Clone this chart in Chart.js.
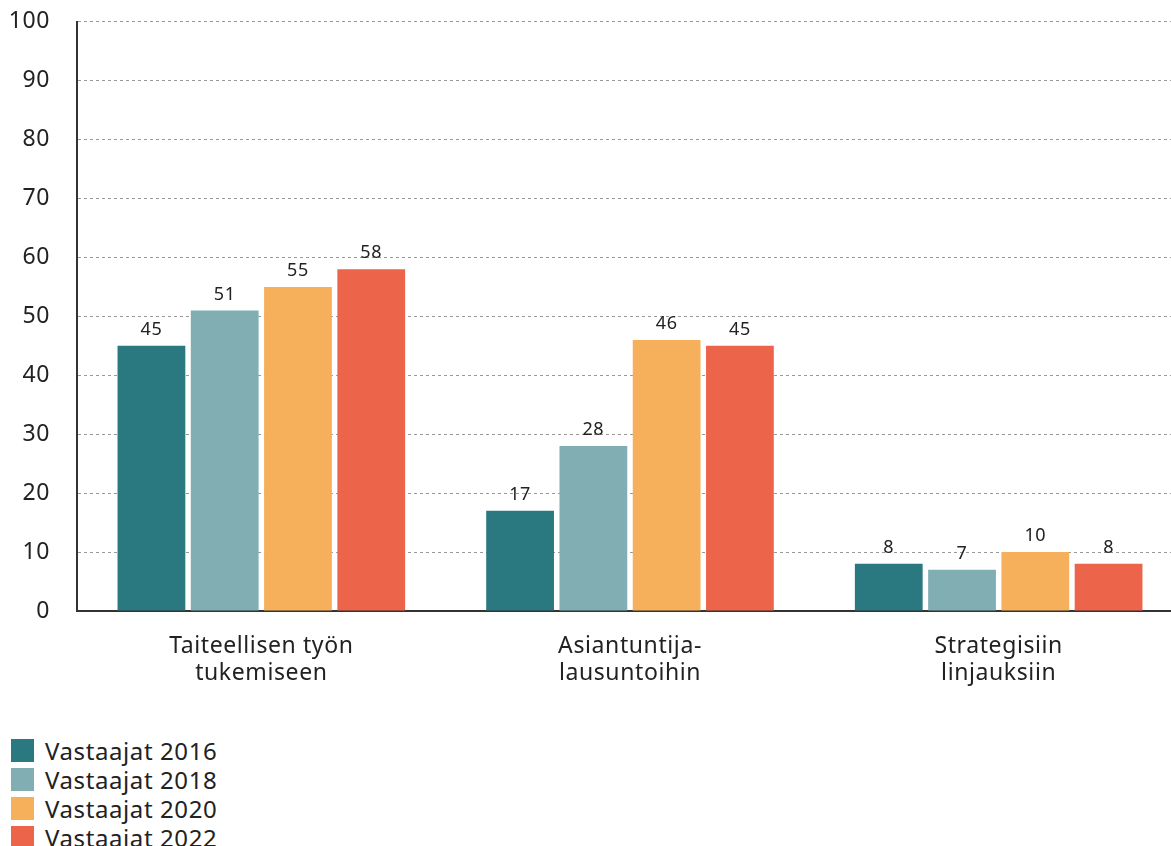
<!DOCTYPE html>
<html>
<head>
<meta charset="utf-8">
<script src="https://cdn.jsdelivr.net/npm/chart.js@4"></script>
<style>
  body { margin: 0; overflow: hidden; background: #fff; font-family: "Noto Sans", sans-serif; }
  #wrap { position: relative; width: 1183px; height: 739px; margin-top: -19px; }
  #legend { margin: 16px 0 0 11px; }
  .item { display: flex; align-items: center; height: 29px; font-size: 24px; letter-spacing: 0.6px; color: #222; }
  .box { width: 23px; height: 23px; margin-right: 11px; }
</style>
</head>
<body>
<div id="wrap"><canvas id="myChart"></canvas></div>
<div id="legend"></div>
<script>
const categories = [["Taiteellisen työn", "tukemiseen"], ["Asiantuntija-", "lausuntoihin"], ["Strategisiin", "linjauksiin"]]
const seriesNames = ["Vastaajat 2016", "Vastaajat 2018", "Vastaajat 2020", "Vastaajat 2022"]
const v2016 = [45, 17, 8]
const v2018 = [51, 28, 7]
const v2020 = [55, 46, 10]
const v2022 = [58, 45, 8]
const colors = ["#2a7880", "#80aeb3", "#f6b05c", "#ec654b"]
const yTicks = [0, 10, 20, 30, 40, 50, 60, 70, 80, 90, 100]

Chart.defaults.font.family = 'Noto Sans'

// a bit of tracking, the original text is set a little loose
const spacing = {
  id: 'spacing',
  beforeDraw(chart) { chart.ctx.letterSpacing = '0.6px' }
}

// value labels above the bars
const barLabels = {
  id: 'barLabels',
  afterDatasetsDraw(chart) {
    const ctx = chart.ctx
    ctx.save()
    ctx.font = '18px "Noto Sans"'
    ctx.fillStyle = '#222'
    ctx.textAlign = 'center'
    ctx.textBaseline = 'alphabetic'
    chart.data.datasets.forEach((ds, i) => {
      chart.getDatasetMeta(i).data.forEach((bar, j) => {
        ctx.fillText(ds.data[j], bar.x, bar.y - 11)
      })
    })
    ctx.restore()
  }
}

const allSeries = [v2016, v2018, v2020, v2022]
const ctx = document.getElementById('myChart')
new Chart(ctx, {
  type: 'bar',
  data: {
    labels: categories,
    datasets: allSeries.map((d, i) => ({
      label: seriesNames[i],
      data: d,
      backgroundColor: colors[i],
      categoryPercentage: 0.795,
      barPercentage: 0.925
    }))
  },
  options: {
    responsive: true,
    maintainAspectRatio: false,
    animation: false,
    layout: { padding: { top: 12, left: 0, right: 0, bottom: 0 } },
    plugins: { legend: { display: false }, tooltip: { enabled: false } },
    scales: {
      x: {
        grid: { display: false, drawTicks: false },
        border: { color: '#333', width: 2 },
        ticks: { color: '#222', padding: 22, font: { size: 23, lineHeight: 1.17 }, maxRotation: 0 },
        afterFit: (scale) => { scale.height = 109 }
      },
      y: {
        min: 0,
        max: 100,
        afterBuildTicks: (scale) => { scale.ticks = yTicks.map(v => ({ value: v })) },
        grid: {
          drawTicks: false,
          color: (c) => c.tick && c.tick.value === 0 ? 'rgba(0,0,0,0)' : '#999',
          lineWidth: 1
        },
        border: { color: '#333', width: 2, dash: [3, 3] },
        ticks: { color: '#222', padding: 27, font: { size: 23 } },
        afterFit: (scale) => { scale.width = 77 }
      }
    }
  },
  plugins: [spacing, barLabels]
})

const legend = document.getElementById('legend')
seriesNames.forEach((name, i) => {
  const row = document.createElement('div')
  row.className = 'item'
  row.innerHTML = '<div class="box" style="background:' + colors[i] + '"></div>' + name
  legend.appendChild(row)
})
</script>
</body>
</html>
